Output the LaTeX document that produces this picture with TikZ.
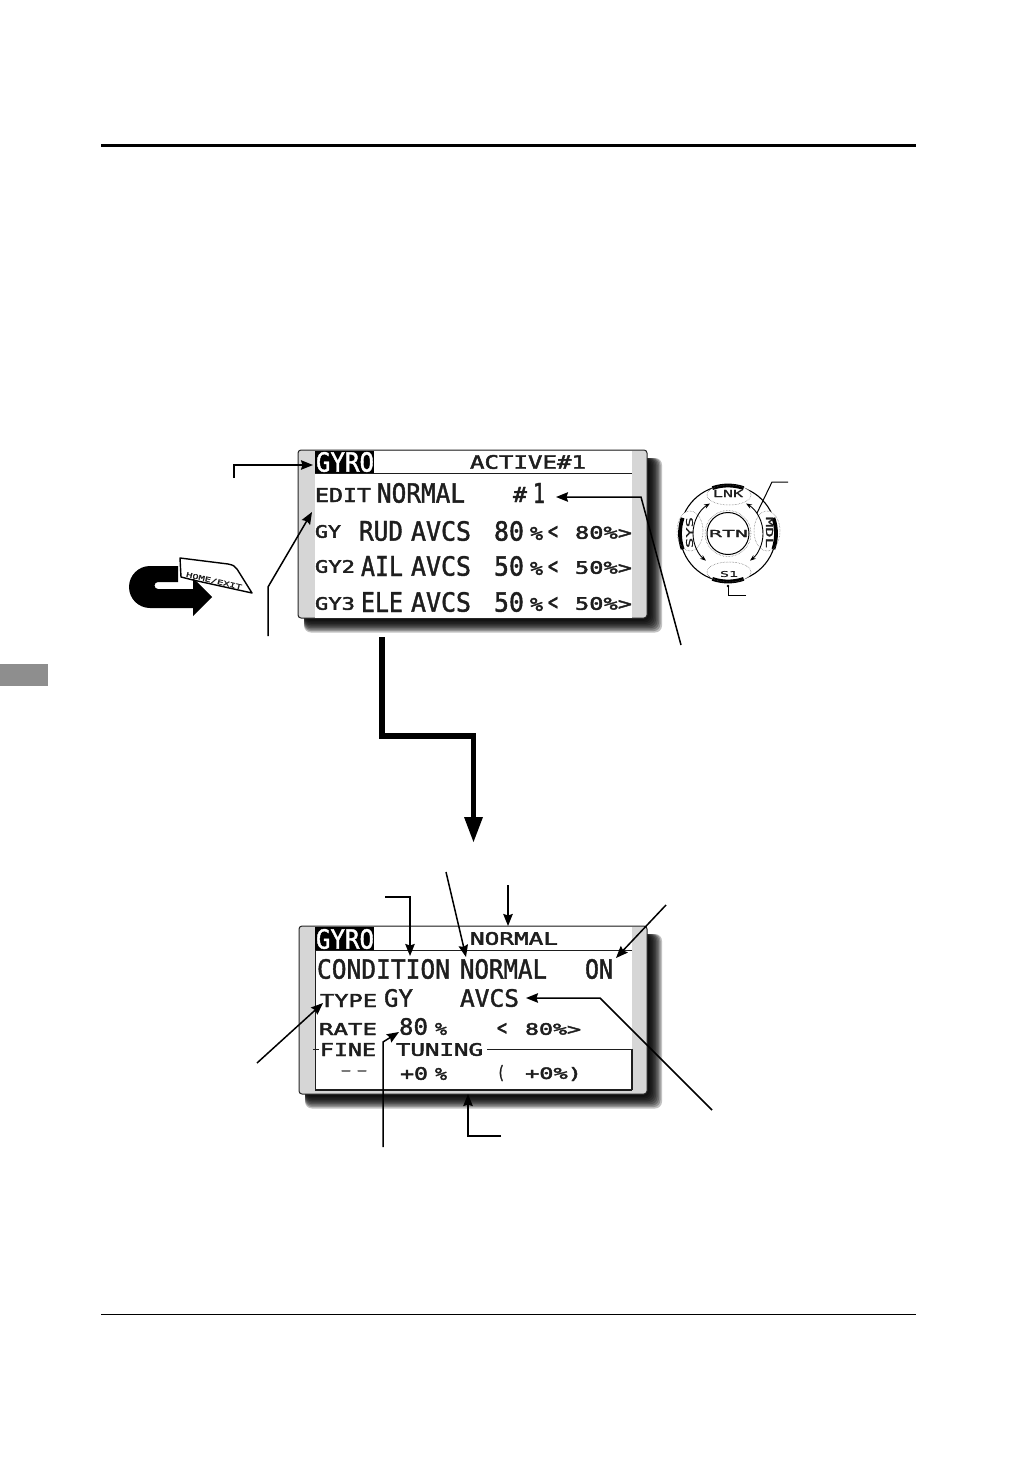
\documentclass[tikz,border=0pt]{standalone}
\usepackage{fontspec}
\usepackage{graphicx}
\usetikzlibrary{arrows.meta,calc}
\setmainfont{DejaVu Sans Mono}
\newfontfamily\lcdbig{DejaVu Sans Mono}[FakeBold=1.6]
\newfontfamily\lcdsmall{DejaVu Sans Mono}[FakeBold=2.2]
\newfontfamily\lcdtiny{DejaVu Sans Mono}[FakeBold=1]
\definecolor{ink}{HTML}{1E1E1E}
\definecolor{bezel}{HTML}{D6D6D6}
\definecolor{tabgray}{HTML}{8E8E8E}
\tikzset{
  lcdtext/.style={inner sep=0pt,outer sep=0pt,text=ink},
  lcdinv/.style={inner sep=0pt,outer sep=0pt,text=white},
  leader/.style={draw=black,line width=1.5pt,-{Stealth[length=12pt,width=9.5pt,inset=1.5pt]},line join=miter},
  plainleader/.style={draw=black,line width=1pt},
  screenrule/.style={draw=ink,line width=1.8pt},
  dialdots/.style={draw=black!65,line width=.5pt,densely dotted},
  dialthick/.style={draw=black,line width=3.8pt},
  dialarrow/.style={draw=black,line width=.9pt,{Stealth[length=6pt,width=4.5pt]}-{Stealth[length=6pt,width=4.5pt]}},
}
\newcommand\lcd[7][lcdtext]{%
  \pgfmathsetmacro\lcdw{#5-#3}\pgfmathsetmacro\lcdh{#6-#4}%
  \node[#1] (#2) at ({(#3+#5)/2},{(#4+#6)/2}) {\ifdim\lcdh pt<10pt\lcdtiny\else\ifdim\lcdh pt<16pt\lcdsmall\else\lcdbig\fi\fi\resizebox*{\lcdw pt}{\lcdh pt}{#7}};}
\newcommand\screen[5]{% x1 y1 x2 y2 inner-bottom
  \foreach \i in {0,...,9}{
    \fill[black,opacity=.24,rounded corners=7pt]
      ({#1+6},{#2+8}) rectangle ({#3+15-\i*1.5},{#4+14.5-\i*1.45});}
  \draw[draw=black!85,fill=bezel,line width=1pt,rounded corners=3pt] (#1,#2) rectangle (#3,#4);
  \fill[white] (315,{#2+1}) rectangle (632,#5);}
\begin{document}
\begin{tikzpicture}[x=1pt,y=-1pt]
\useasboundingbox (0,0) rectangle (1032,1458);
\fill[white] (0,0) rectangle (1032,1458);
% page furniture
\fill[black] (101,144.5) rectangle (916,147.5);
\fill[black] (101,1313.6) rectangle (916,1314.6);
\fill[tabgray] (0,664) rectangle (48,686);

% ---------- upper screen
\screen{298}{450}{647}{618}{618}
\fill[black] (315,451) rectangle (374,473);
\draw[screenrule] (315,473.5) -- (632,473.5);
\lcd[lcdinv]{ta}{316}{452}{374}{472}{GYRO}
\lcd{tb}{470}{455}{586}{469}{ACTIVE\#1}
\lcd{ea}{315}{488}{371}{502}{EDIT}
\lcd{eb}{377}{483}{465}{503}{NORMAL}
\lcd{ec}{513}{487}{527}{502}{\#}
\lcd{ed}{533}{483}{545}{503}{1}
\lcd{ga}{315}{525}{341}{538}{GY}
\lcd{gb}{359}{521}{403}{541}{RUD}
\lcd{gc}{411}{521}{471}{541}{AVCS}
\lcd{gd}{494}{521}{524}{541}{80}
\lcd{ge}{530}{527}{543}{540}{\%}
\lcd{gf}{548}{526}{558}{539}{<}
\lcd{gg}{575}{526}{632}{539}{80\%>}
\lcd{ha}{315}{560}{355}{573}{GY2}
\lcd{hb}{361}{556}{403}{576}{AIL}
\lcd{hc}{411}{556}{471}{576}{AVCS}
\lcd{hd}{494}{556}{524}{576}{50}
\lcd{he}{530}{562}{543}{575}{\%}
\lcd{hf}{548}{561}{558}{574}{<}
\lcd{hg}{575}{561}{632}{574}{50\%>}
\lcd{ia}{315}{597}{355}{610}{GY3}
\lcd{ib}{361}{592}{403}{612}{ELE}
\lcd{ic}{411}{592}{471}{612}{AVCS}
\lcd{id}{494}{592}{524}{612}{50}
\lcd{ie}{530}{598}{543}{611}{\%}
\lcd{if}{548}{597}{558}{610}{<}
\lcd{ig}{575}{597}{632}{610}{50\%>}

% upper leaders
\coordinate (u1s) at (234,478); \coordinate (u1b) at (234,465); \coordinate (u1e) at (313,465);
\draw[leader] (u1s) -- (u1b) -- (u1e);
\coordinate (u2s) at (268,636); \coordinate (u2b) at (268,587); \coordinate (u2e) at (312,512);
\draw[leader] (u2s) -- (u2b) -- (u2e);
\coordinate (u3s) at (681,645); \coordinate (u3b) at (641,497); \coordinate (u3e) at (556,497);
\draw[leader] (u3s) -- (u3b) -- (u3e);

% HOME/EXIT icon
\fill[black] (178,566) -- (150,566) arc[start angle=90,end angle=270,radius=21pt] -- (193,608) -- (193,616) -- (212,597) -- (193,578) -- (193,589) -- (158,589) arc[start angle=270,end angle=90,radius=3.5pt] -- (178,582) -- cycle;
\draw[draw=black,fill=white,line width=1.4pt,line join=round] (180,558) -- (228,564) .. controls (233,565) and (235,566) .. (237,569) -- (252,593) -- (193,580) -- (181,577) -- cycle;
\fill[black] (193,578) -- (212,597) -- (193,597) -- cycle;
\node[lcdtext,rotate=-13] (homeexit) at (214,581) {\lcdtiny\resizebox*{57pt}{5.5pt}{HOME/EXIT}};

% dial
\coordinate (dial) at (728,533.5);
\draw[line width=1.1pt,draw=black] (dial) circle[radius=48pt];
\draw[line width=1pt,draw=black] (dial) circle[radius=21pt];
\draw[dialdots] (dial) circle[radius=23pt];
\foreach \n/\x/\y/\rx/\ry in {lnk/729/495/22/10,mdl/767/531/13/20,sone/729/572/22/10,sys/690/531/13/20}{
  \coordinate (\n) at (\x,\y);
  \fill[white] (\n) ellipse[x radius=\rx pt,y radius=\ry pt];}
\foreach \a in {90,180,270,0}{
  \draw[dialthick] (dial) ++(\a-19:48pt) arc[start angle=\a-19,end angle=\a+19,radius=48pt];}
\foreach \n/\x/\y/\rx/\ry in {lnk/729/495/22/10,mdl/767/531/13/20,sone/729/572/22/10,sys/690/531/13/20}{
  \draw[dialdots] (\n) ellipse[x radius=\rx pt,y radius=\ry pt];}
\draw[dialarrow] (dial) ++(121:35pt) arc[start angle=121,end angle=231,radius=35pt];
\draw[dialarrow] (dial) ++(59:35pt) arc[start angle=59,end angle=-51,radius=35pt];
\lcd{rtn}{709}{530}{748}{537}{RTN}
\lcd{lnktxt}{713}{490}{743}{497}{LNK}
\lcd{sonetxt}{720}{571}{738}{577}{S1}
\node[lcdtext,rotate=90] (systxt) at (689.5,532.5) {\lcdtiny\resizebox*{31pt}{7pt}{SYS}};
\node[lcdtext,rotate=-90] (mdltxt) at (769.5,532.5) {\lcdtiny\resizebox*{31pt}{7pt}{MDL}};
\coordinate (d1s) at (788,482); \coordinate (d1b) at (772,482); \coordinate (d1e) at (757,513);
\draw[plainleader] (d1s) -- (d1b) -- (d1e);
\coordinate (d2s) at (746,595); \coordinate (d2b) at (728,595); \coordinate (d2e) at (728,586);
\draw[plainleader] (d2s) -- (d2b) -- (d2e);
\fill[black] (d2e) circle[radius=1.3pt];

% big arrow
\coordinate (bigs) at (382,637); \coordinate (big1) at (382,736); \coordinate (big2) at (473.5,736); \coordinate (big3) at (473.5,820); \coordinate (bige) at (473.5,842);
\draw[black,line width=5.6pt,line join=miter] (bigs) -- (big1) -- (big2) -- (big3);
\fill[black] (464,817) -- (483,817) -- (bige) -- cycle;

% ---------- lower screen
\screen{299}{926}{647}{1094}{1090}
\fill[black] (315,927) rectangle (374,950);
\draw[screenrule] (315,950.5) -- (632,950.5);
\draw[screenrule] (315,1090) -- (632,1090);
\draw[draw=ink,line width=1pt] (315,950) -- (315,1090);
\draw[screenrule] (487,1049.5) -- (632,1049.5) -- (632,1090);
\draw[draw=ink,line width=1pt] (313,1049.5) -- (319,1049.5);
\lcd[lcdinv]{ja}{316}{929}{374}{949}{GYRO}
\lcd{jb}{470}{932}{558}{945}{NORMAL}
\lcd{ka}{317}{959}{450}{979}{CONDITION}
\lcd{kb}{460}{959}{547}{979}{NORMAL}
\lcd{kc}{585}{959}{613}{979}{ON}
\lcd{la}{320}{994}{377}{1007}{TYPE}
\lcd{lb}{384}{989}{413}{1007}{GY}
\lcd{lc}{460}{989}{519}{1007}{AVCS}
\lcd{ma}{319}{1023}{377}{1035}{RATE}
\lcd{mb}{399}{1018}{428}{1035}{80}
\lcd{mc}{435}{1023}{447}{1035}{\%}
\lcd{md}{497}{1023}{507}{1035}{<}
\lcd{me}{525}{1023}{581}{1035}{80\%>}
\lcd{na}{320}{1043}{376}{1056}{FINE}
\lcd{nb}{396}{1043}{483}{1056}{TUNING}
\lcd{oa}{336}{1070.5}{356}{1073.5}{-}
\lcd{oaa}{352}{1070.5}{372}{1073.5}{-}
\lcd{ob}{400}{1067}{428}{1080}{+0}
\lcd{oc}{435}{1068}{447}{1080}{\%}
\lcd{od}{497}{1065}{505}{1081}{(}
\lcd{oe}{525}{1067}{582}{1081}{+0\%)}

% lower leaders
\coordinate (a1s) at (385,897); \coordinate (a1b) at (410,897); \coordinate (a1e) at (410,956);
\draw[leader] (a1s) -- (a1b) -- (a1e);
\coordinate (a2s) at (446,872); \coordinate (a2e) at (466,957);
\draw[leader] (a2s) -- (a2e);
\coordinate (a3s) at (508,885); \coordinate (a3e) at (508,926);
\draw[leader] (a3s) -- (a3e);
\coordinate (a4s) at (666,905); \coordinate (a4e) at (616,958);
\draw[leader] (a4s) -- (a4e);
\coordinate (a5s) at (257,1063); \coordinate (a5e) at (323,1003);
\draw[leader] (a5s) -- (a5e);
\coordinate (a6s) at (383,1147); \coordinate (a6b) at (383,1042); \coordinate (a6e) at (399,1032);
\draw[leader] (a6s) -- (a6b) -- (a6e);
\coordinate (a7s) at (501,1136); \coordinate (a7b) at (468,1136); \coordinate (a7e) at (468,1094);
\draw[leader] (a7s) -- (a7b) -- (a7e);
\coordinate (a8s) at (712,1110); \coordinate (a8b) at (600,998); \coordinate (a8e) at (526,998);
\draw[leader] (a8s) -- (a8b) -- (a8e);
\end{tikzpicture}
\end{document}
